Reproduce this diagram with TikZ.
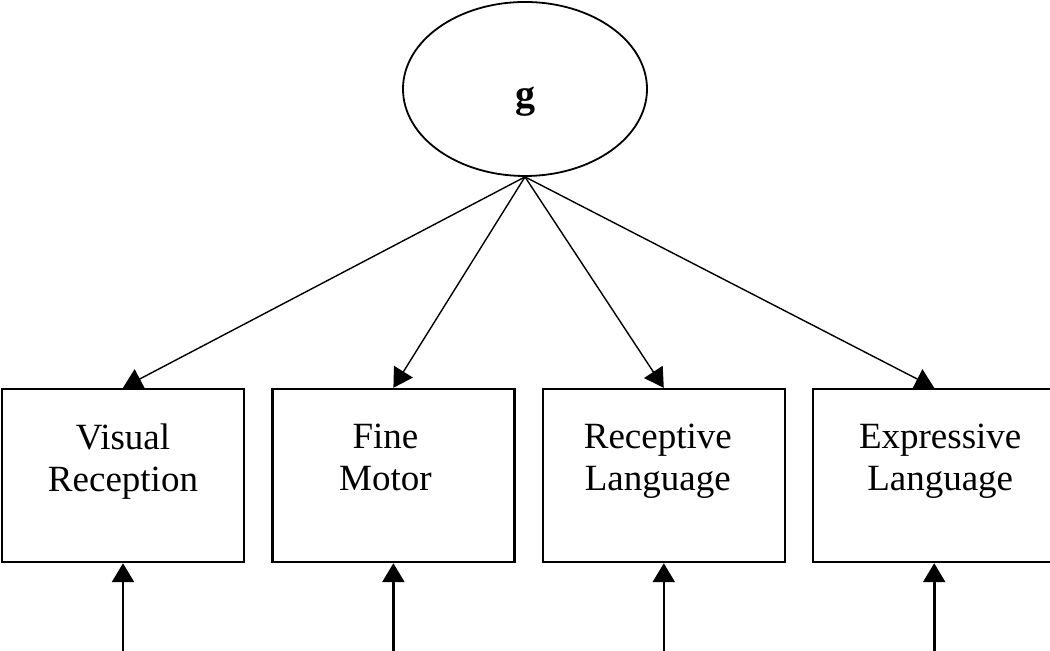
\documentclass[tikz,border=0pt]{standalone}
\usepackage{fontspec}
\setmainfont{Liberation Serif}
\usetikzlibrary{arrows.meta,positioning,shapes.geometric}

\begin{document}
\begin{tikzpicture}[>={Triangle[length=9.5pt,width=11pt]},node distance=13pt,
	box/.style={draw,line width=1.2pt,rectangle,minimum width=121pt,minimum height=86.5pt,inner sep=0pt},
	latent/.style={draw,line width=0.9pt,ellipse,minimum width=122pt,minimum height=87pt,
		font=\fontsize{20}{24}\selectfont\bfseries,text height=19pt,text depth=0pt},
	txt/.style={align=center,inner sep=0pt,font=\fontsize{18.5}{21}\selectfont}]

\useasboundingbox (0,0) rectangle (525pt,325.5pt);

\node[latent]   (g)   at (262.5pt,281pt)   {g};

\node[box] 	  (vr)  at (61.5pt,87.75pt) {};
	\node[box]   (fm) [right=of vr]     {};
	\node[box]   (rl) [right=of fm]     {};
	\node[box]   (el) [right=of rl]     {};

	\node[txt]  (vrlabel) [below=17.8pt of vr.north]            {Visual\\Reception};
	\node[txt]  (fmlabel) [below=17.8pt of fm.north,xshift=-4pt] {Fine\\Motor};
	\node[txt]  (rllabel) [below=17.8pt of rl.north,xshift=-3pt] {Receptive\\Language};
	\node[txt]  (ellabel) [below=17.8pt of el.north,xshift=3pt]  {Expressive\\Language};

	% error terms
	\coordinate (vr-in) at ([yshift=-44.5pt]vr.south);
	\coordinate (fm-in) at ([yshift=-44.5pt]fm.south);
	\coordinate (rl-in) at ([yshift=-44.5pt]rl.south);
	\coordinate (el-in) at ([yshift=-44.5pt]el.south);

	\path[->,line width=0.7pt] (g.south) edge (vr.north)
					edge (fm.north)
					edge (rl.north)
					edge (el.north);

	\path[->,line width=1.3pt] (vr-in) edge (vr.south)
		(fm-in) edge (fm.south)
		(rl-in) edge (rl.south)
		(el-in) edge (el.south);

\end{tikzpicture}
\end{document}
